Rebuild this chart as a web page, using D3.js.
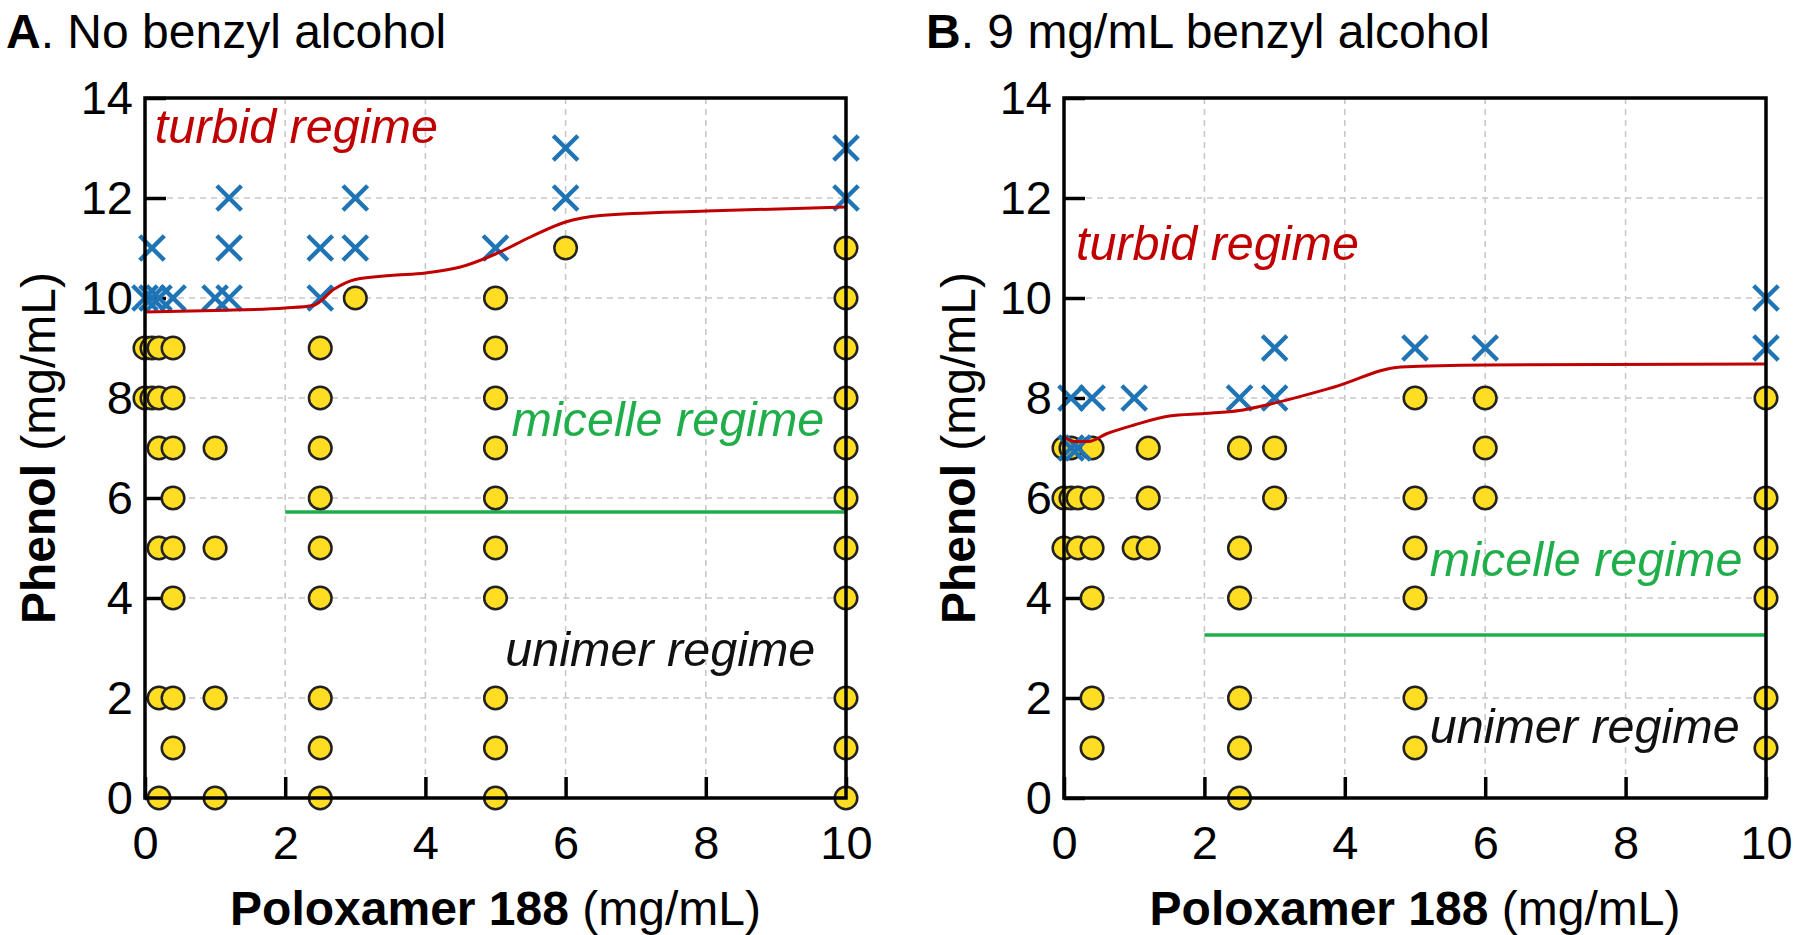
<!DOCTYPE html>
<html><head><meta charset="utf-8">
<script src="https://cdn.jsdelivr.net/npm/d3@7"></script>
<style>
body{margin:0;background:#fff}
svg{display:block}
text{font-family:"Liberation Sans",Arial,Helvetica,sans-serif}
</style>
</head><body>
<svg id="chart" width="1800" height="935"></svg>
<script>
// ---------- data ----------
const xTicks = [0, 2, 4, 6, 8, 10];
const yTicks = [0, 2, 4, 6, 8, 10, 12, 14];

const panelTitles = [
  {bold: "A", rest: ". No benzyl alcohol"},
  {bold: "B", rest: ". 9 mg/mL benzyl alcohol"}
];
const xLabel = {bold: "Poloxamer 188", rest: " (mg/mL)"};
const yLabel = {bold: "Phenol", rest: " (mg/mL)"};

// Panel A: clear samples (circles) [poloxamer, phenol]
const aClear = [
  [0,9],[0.1,9],[0.2,9],[0.4,9],
  [0,8],[0.1,8],[0.2,8],[0.4,8],
  [0.2,7],[0.4,7],[1,7],
  [0.4,6],
  [0.2,5],[0.4,5],[1,5],
  [0.4,4],
  [0.2,2],[0.4,2],[1,2],
  [0.4,1],
  [0.2,0],[1,0],
  [2.5,9],[2.5,8],[2.5,7],[2.5,6],[2.5,5],[2.5,4],[2.5,2],[2.5,1],[2.5,0],
  [3,10],
  [5,10],[5,9],[5,8],[5,7],[5,6],[5,5],[5,4],[5,2],[5,1],[5,0],
  [6,11],
  [10,11],[10,10],[10,9],[10,8],[10,7],[10,6],[10,5],[10,4],[10,2],[10,1],[10,0]
];
// Panel A: turbid samples (crosses)
const aTurbid = [
  [0.1,11],[1.2,11],[1.2,12],
  [0,10],[0.1,10],[0.2,10],[0.4,10],[1,10],[1.2,10],
  [2.5,10],[2.5,11],[3,11],[3,12],
  [5,11],[6,12],[6,13],[10,12],[10,13]
];
// Panel A: turbidity boundary (red) and micelle boundary (green)
const aTurbidBoundary = [
  [0,9.72],[1,9.75],[2,9.8],[2.4,9.85],[2.7,10.18],[3,10.37],[3.5,10.45],[4,10.5],
  [4.5,10.62],[5,10.88],[5.5,11.22],[6,11.52],[6.5,11.65],[8,11.74],[10,11.82]
];
const aMicelleBoundary = [[2,5.72],[10,5.72]];

// Panel B
const bClear = [
  [0,7],[0.1,7],[0.4,7],[1.2,7],
  [0,6],[0.1,6],[0.2,6],[0.4,6],[1.2,6],
  [0,5],[0.2,5],[0.4,5],[1,5],[1.2,5],
  [0.4,4],[0.4,2],[0.4,1],
  [2.5,7],[2.5,5],[2.5,4],[2.5,2],[2.5,1],[2.5,0],
  [3,7],[3,6],
  [5,8],[5,6],[5,5],[5,4],[5,2],[5,1],
  [6,8],[6,7],[6,6],
  [10,8],[10,6],[10,5],[10,4],[10,2],[10,1]
];
const bTurbid = [
  [0.1,8],[0.4,8],[1,8],[0.1,7],[0.2,7],
  [2.5,8],[3,8],[3,9],[5,9],[6,9],[10,9],[10,10]
];
const bTurbidBoundary = [
  [0,7.22],[0.15,7.13],[0.35,7.13],[0.6,7.28],[1,7.46],[1.5,7.64],[2,7.69],[2.5,7.75],
  [2.85,7.85],[3.85,8.22],[4.8,8.62],[6,8.66],[10,8.68]
];
const bMicelleBoundary = [[2,3.26],[10,3.26]];

// regime labels: [text, x, y] in data units (left edge, vertical centre)
const aRegimes = [["turbid regime",0.14,13.44],["micelle regime",5.23,7.58],["unimer regime",5.14,2.98]];
const bRegimes = [["turbid regime",0.17,11.1],["micelle regime",5.21,4.78],["unimer regime",5.21,1.44]];

// ---------- styling ----------
const C = {
  red: "#c00000", green: "#1fae4a", blue: "#1f74b6",
  yellow: "#ffdd22", stroke: "#222", grid: "#c8c8c8"
};
const regimeColors = ["#c00000", "#1fae4a", "#111"];

const panels = [
  {left:145, right:846, titleX:6, yLabX:38, clear:aClear, turbid:aTurbid, red:aTurbidBoundary, green:aMicelleBoundary, regimes:aRegimes, title:panelTitles[0]},
  {left:1064, right:1766, titleX:926, yLabX:958, clear:bClear, turbid:bTurbid, red:bTurbidBoundary, green:bMicelleBoundary, regimes:bRegimes, title:panelTitles[1]}
];
const plotTop = 98, plotBottom = 798;
const svg = d3.select("#chart");

function richText(sel, parts){
  sel.append("tspan").attr("font-weight","bold").text(parts.bold);
  sel.append("tspan").attr("font-weight","normal").text(parts.rest);
}

panels.forEach(p => {
  const g = svg.append("g");
  const x = d3.scaleLinear().domain([0,10]).range([p.left,p.right]);
  const y = d3.scaleLinear().domain([0,14]).range([plotBottom,plotTop]);

  // grid
  g.append("g").selectAll("line").data(xTicks.filter(t=>t>0&&t<10)).join("line")
    .attr("x1",d=>x(d)).attr("x2",d=>x(d)).attr("y1",plotTop).attr("y2",plotBottom)
    .attr("stroke",C.grid).attr("stroke-width",1.6).attr("stroke-dasharray","6,5");
  g.append("g").selectAll("line").data(yTicks.filter(t=>t>0&&t<14)).join("line")
    .attr("y1",d=>y(d)).attr("y2",d=>y(d)).attr("x1",p.left).attr("x2",p.right)
    .attr("stroke",C.grid).attr("stroke-width",1.6).attr("stroke-dasharray","6,5");

  // axes
  const ya = g.append("g").attr("transform",`translate(${p.left},0)`)
    .call(d3.axisLeft(y).tickValues(yTicks).tickSize(-21).tickPadding(12).tickFormat(d3.format("d")));
  const xa = g.append("g").attr("transform",`translate(0,${plotBottom})`)
    .call(d3.axisBottom(x).tickValues(xTicks).tickSize(-21).tickPadding(28).tickFormat(d3.format("d")));
  [ya,xa].forEach(a=>{
    a.select(".domain").remove();
    a.selectAll(".tick line").attr("stroke","#000").attr("stroke-width",3.5);
    a.selectAll(".tick text").attr("fill","#000").attr("font-size",47)
      .attr("font-family","'Liberation Sans',Arial,sans-serif");
  });

  // green micelle boundary
  g.append("path").datum(p.green)
    .attr("d", d3.line().x(d=>x(d[0])).y(d=>y(d[1])))
    .attr("fill","none").attr("stroke",C.green).attr("stroke-width",3.5);

  // circles
  g.append("g").selectAll("circle").data(p.clear).join("circle")
    .attr("cx",d=>x(d[0])).attr("cy",d=>y(d[1])).attr("r",11.3)
    .attr("fill",C.yellow).attr("stroke",C.stroke).attr("stroke-width",2.5);

  // crosses
  const s = 12.3;
  g.append("g").selectAll("path").data(p.turbid).join("path")
    .attr("d",d=>{const cx=x(d[0]), cy=y(d[1]);
      return `M${cx-s},${cy-s}L${cx+s},${cy+s}M${cx-s},${cy+s}L${cx+s},${cy-s}`;})
    .attr("stroke",C.blue).attr("stroke-width",4.4).attr("fill","none");

  // red turbidity boundary
  g.append("path").datum(p.red)
    .attr("d", d3.line().curve(d3.curveMonotoneX).x(d=>x(d[0])).y(d=>y(d[1])))
    .attr("fill","none").attr("stroke",C.red).attr("stroke-width",3);

  // frame
  g.append("rect").attr("x",p.left).attr("y",plotTop).attr("width",p.right-p.left).attr("height",plotBottom-plotTop)
    .attr("fill","none").attr("stroke","#000").attr("stroke-width",3.5);

  // regime labels
  g.append("g").selectAll("text").data(p.regimes).join("text")
    .attr("x",d=>x(d[1])).attr("y",d=>y(d[2])).attr("dy","0.35em")
    .attr("font-size",48.5).attr("font-style","italic")
    .attr("fill",(d,i)=>regimeColors[i]).text(d=>d[0]);

  // panel title
  const t = svg.append("text").attr("x",p.titleX).attr("y",48).attr("font-size",48).attr("fill","#000");
  richText(t, p.title);

  // axis titles
  const xl = svg.append("text").attr("x",(p.left+p.right)/2).attr("y",925)
    .attr("text-anchor","middle").attr("font-size",48).attr("fill","#000");
  richText(xl, xLabel);
  const yl = svg.append("text").attr("transform",`translate(${p.yLabX+17},${(plotTop+plotBottom)/2}) rotate(-90)`)
    .attr("text-anchor","middle").attr("font-size",48).attr("fill","#000");
  richText(yl, yLabel);
});
</script>
</body></html>
